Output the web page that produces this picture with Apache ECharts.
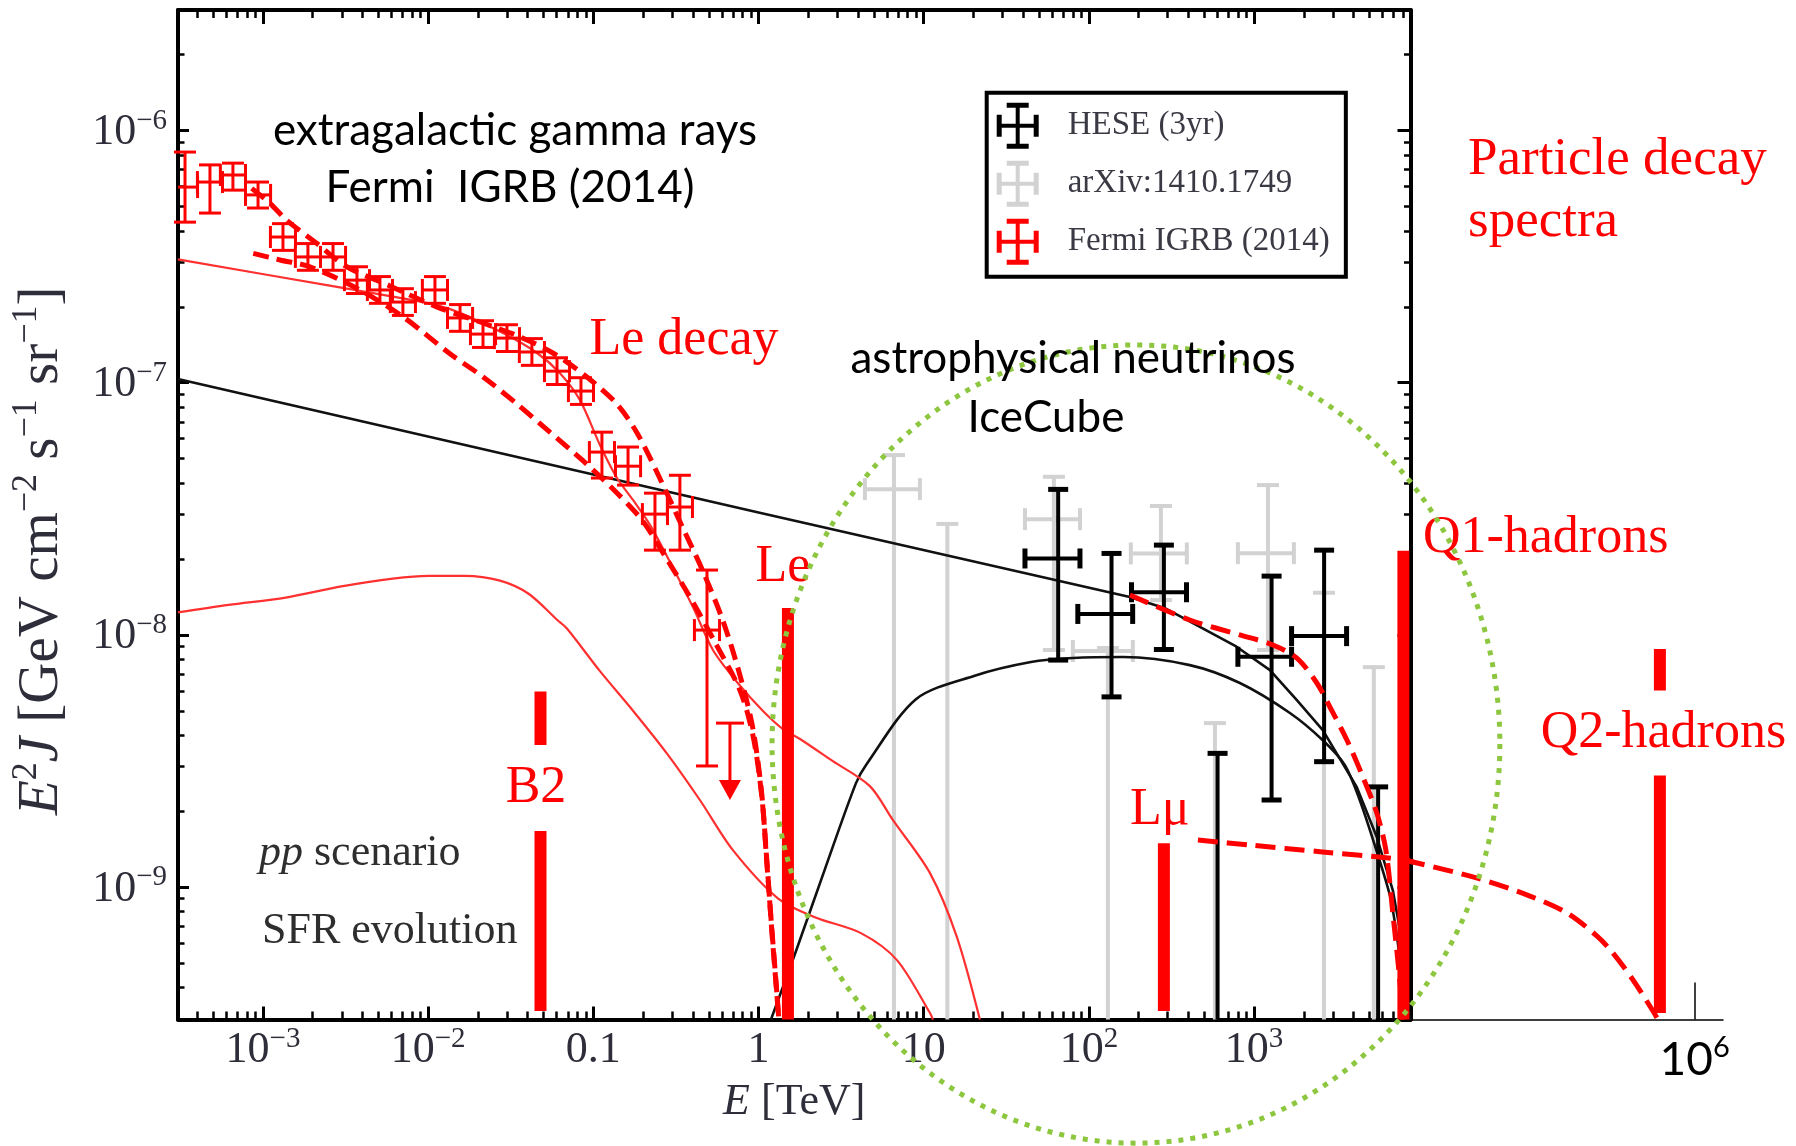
<!DOCTYPE html>
<html>
<head>
<meta charset="utf-8">
<script src="https://cdn.jsdelivr.net/npm/echarts@6/dist/echarts.min.js"></script>
<style>
  html, body { margin: 0; padding: 0; background: #ffffff; }
  #chart { width: 1796px; height: 1146px; }
</style>
</head>
<body>
<div id="chart"></div>
<script>
// ---------------------------------------------------------------------------
// Fonts
// ---------------------------------------------------------------------------
const SERIF = '"Liberation Serif", "Times New Roman", serif';
const SANS = 'Lato, "Open Sans", sans-serif';

// All values below are log10 values: log10(E / TeV) and log10(E^2 J / GeV cm^-2 s^-1 sr^-1)

// Axis ranges (log10)
const xLogRange = [-3.5145, 3.947];
const yLogRange = [-9.5256, -5.5216];
const x2LogRange = [3.947, 6.205];   // continuation strip up to 10^6 TeV

// Tick marks
const majorXTicks = [1e-3, 1e-2, 0.1, 1, 10, 100, 1000];
const majorYTicks = [1e-9, 1e-8, 1e-7, 1e-6];
const extensionTicks = [1e6];
const minorMultipliers = [2, 3, 4, 5, 6, 7, 8, 9];

// Fermi IGRB (2014)
const igrbLogE = [-3.472, -3.321, -3.182, -3.030, -2.879, -2.728, -2.576, -2.431, -2.292, -2.153, -1.959,
                  -1.807, -1.668, -1.523, -1.372, -1.220, -1.075, -0.948, -0.790, -0.627, -0.476, -0.312];
const igrbLogBinHalfWidth = 0.076;
const igrbLogF = [-6.224, -6.204, -6.176, -6.255, -6.422, -6.501, -6.501, -6.593, -6.632, -6.680, -6.632,
                  -6.743, -6.807, -6.823, -6.878, -6.954, -7.033, -7.275, -7.331, -7.521, -7.493, -7.981];
const igrbLogFHi = [-6.085, -6.136, -6.129, -6.204, -6.369, -6.448, -6.448, -6.540, -6.579, -6.627, -6.579,
                    -6.690, -6.754, -6.770, -6.825, -6.901, -6.980, -7.196, -7.255, -7.438, -7.367, -7.743];
const igrbLogFLo = [-6.363, -6.327, -6.236, -6.307, -6.475, -6.554, -6.554, -6.646, -6.685, -6.733, -6.685,
                    -6.796, -6.860, -6.876, -6.931, -7.007, -7.086, -7.378, -7.406, -7.664, -7.664, -8.520];
// upper limit: [log E, log F at the bar, log F at the arrow tip]
const igrbUpperLimit = [[-0.173, -8.350, -8.655]];

// IceCube HESE (3yr); null lower flux = bar reaches the bottom of the plot
const heseLogE   = [1.814, 2.137, 2.454, 2.779, 3.106, 3.424, 3.751];
const heseLogELo = [1.613, 1.933, 2.258, null, 2.902, 3.227, null];
const heseLogEHi = [1.946, 2.265, 2.591, null, 3.227, 3.560, null];
const heseLogF   = [-7.697, -7.917, -7.831, -8.470, -8.087, -8.005, -8.603];
const heseLogFLo = [-8.100, -8.246, -8.058, null, -8.655, -8.503, null];
const heseLogFHi = [-7.423, -7.677, -7.644, -8.470, -7.767, -7.664, -8.603];

// arXiv:1410.1749
const arxivLogE   = [0.820, 1.143, 1.788, 2.115, 2.436, 2.763, 3.084, 3.423, 3.725];
const arxivLogELo = [0.644, null, 1.613, 1.903, 2.254, null, 2.902, null, null];
const arxivLogEHi = [0.977, null, 1.946, 2.266, 2.593, null, 3.241, null, null];
const arxivLogF   = [-7.422, -7.560, -7.541, -8.064, -7.677, -8.350, -7.676, -7.833, -8.128];
const arxivLogFLo = [null, null, -8.060, null, -7.862, null, -8.060, null, null];
const arxivLogFHi = [-7.287, -7.560, -7.373, -8.052, -7.489, -8.350, -7.406, -7.833, -8.128];

// Astrophysical neutrino spectra (pp scenario, SFR evolution)
const astroFluxUpper = [[-3.515, -6.985], [0, -7.515], [2.248, -7.850], [2.460, -7.894], [2.672, -7.968],
  [2.894, -8.047], [3.096, -8.140], [3.259, -8.259], [3.416, -8.378], [3.622, -8.604], [3.743, -8.802],
  [3.840, -9.013], [3.883, -9.171], [3.919, -9.369], [3.943, -9.526]];
const astroFluxLower = [[0.075, -9.526], [0.227, -9.254], [0.402, -8.929], [0.590, -8.588], [0.654, -8.513],
  [0.953, -8.255], [1.304, -8.163], [1.649, -8.108], [1.903, -8.092], [2.206, -8.088], [2.611, -8.120],
  [2.914, -8.191], [3.217, -8.310], [3.416, -8.418], [3.550, -8.517], [3.640, -8.656], [3.731, -8.835],
  [3.822, -9.033], [3.864, -9.192], [3.901, -9.390], [3.925, -9.526]];

// Gamma-ray counterparts (thin red)
const gammaUpper = [[-3.515, -6.511], [-2.552, -6.620], [-2.031, -6.680], [-1.850, -6.712], [-1.547, -6.803],
  [-1.341, -6.882], [-1.202, -6.962], [-1.081, -7.069], [-0.960, -7.247], [-0.857, -7.378], [-0.760, -7.465],
  [-0.657, -7.564], [-0.536, -7.711], [-0.397, -7.890], [-0.276, -8.060], [-0.131, -8.187], [0.027, -8.302],
  [0.148, -8.374], [0.251, -8.413], [0.450, -8.501], [0.674, -8.600], [0.814, -8.735], [1.038, -8.945],
  [1.201, -9.199], [1.340, -9.526]];
const gammaLower = [[-3.515, -7.911], [-3.208, -7.881], [-2.863, -7.852], [-2.516, -7.807], [-2.214, -7.777],
  [-1.998, -7.766], [-1.781, -7.766], [-1.565, -7.785], [-1.392, -7.837], [-1.220, -7.940], [-1.160, -7.975],
  [-0.960, -8.144], [-0.760, -8.301], [-0.554, -8.471], [-0.354, -8.656], [-0.155, -8.854], [0.117, -9.045],
  [0.341, -9.120], [0.620, -9.183], [0.838, -9.290], [1.038, -9.500], [1.056, -9.526]];

// Le decay spectra (dashed)
const leDecayUpper = [[-3.068, -6.229], [-2.958, -6.288], [-2.857, -6.355], [-2.675, -6.447], [-2.493, -6.540],
  [-2.231, -6.616], [-1.949, -6.699], [-1.668, -6.763], [-1.444, -6.818], [-1.245, -6.882], [-1.041, -6.976],
  [-0.859, -7.083], [-0.738, -7.196], [-0.617, -7.352], [-0.456, -7.579], [-0.337, -7.747], [-0.215, -7.945],
  [-0.113, -8.159], [-0.034, -8.372], [0.019, -8.628], [0.049, -8.893], [0.081, -9.171], [0.105, -9.369],
  [0.123, -9.526]];
const leDecayLower = [[-3.059, -6.487], [-2.897, -6.513], [-2.716, -6.540], [-2.433, -6.625], [-2.153, -6.738],
  [-1.868, -6.885], [-1.667, -6.977], [-1.464, -7.083], [-1.263, -7.196], [-1.063, -7.309], [-0.857, -7.437],
  [-0.700, -7.549], [-0.567, -7.687], [-0.415, -7.850], [-0.264, -8.029], [-0.113, -8.219], [-0.034, -8.398],
  [0.019, -8.636], [0.051, -8.902], [0.081, -9.179], [0.105, -9.377], [0.123, -9.526]];

// Q1-hadrons and Lmu decay spectra (dashed)
const q1Spectrum = [[2.248, -7.842], [2.611, -7.941], [2.914, -8.000], [3.114, -8.040], [3.259, -8.092],
  [3.380, -8.191], [3.459, -8.286], [3.562, -8.417], [3.659, -8.564], [3.743, -8.707], [3.798, -8.854],
  [3.840, -9.104], [3.882, -9.369], [3.900, -9.526]];
const lmuSpectrum = [[2.660, -8.814], [2.981, -8.834], [3.398, -8.860], [3.814, -8.885], [3.965, -8.901],
  [4.449, -8.968], [4.810, -9.036], [5.078, -9.103], [5.295, -9.195], [5.410, -9.262], [5.555, -9.369],
  [5.699, -9.492], [5.735, -9.526]];

// Decay lines (thick bars); null bottom = down to the axis
const lineNames = ['B2', 'Le', 'L\u03bc', 'Q1-hadrons'];
const lineLogE = [-1.320, 0.178, 2.454, 3.904];
const lineLogTop = [-8.225, -7.893, -8.827, -7.666];
const lineLogBottom = [-9.492, null, -9.492, null];
const farLineNames = ['Q2-hadrons'];
const farLineLogE = [5.749];
const farLineLogTop = [-8.056];
const farLineLogBottom = [-9.500];

// Region marking the neutrino data (dotted ellipse): centre and half-axes in decades
const ellipseLogCenter = [2.285, -8.433];
const ellipseLogRadius = [2.203, 1.583];

// ---------------------------------------------------------------------------
// Helpers
// ---------------------------------------------------------------------------
const p10 = v => (v === null || v === undefined ? null : Math.pow(10, v));
const toXY = pts => pts.map(p => [p10(p[0]), p10(p[1])]);

function minorTicks(range) {
  const out = [];
  for (let k = Math.floor(range[0]); k <= Math.ceil(range[1]); k++) {
    for (const m of minorMultipliers) {
      const v = m * Math.pow(10, k);
      const l = Math.log10(v);
      if (l > range[0] && l < range[1]) out.push(v);
    }
  }
  return out;
}

function errorRows(logE, logELo, logEHi, logF, logFLo, logFHi) {
  return logE.map((e, i) => [p10(e), p10(logF[i]), p10(logELo[i]), p10(logEHi[i]), p10(logFLo[i]), p10(logFHi[i])]);
}

const igrbRows = errorRows(igrbLogE,
  igrbLogE.map(e => e - igrbLogBinHalfWidth), igrbLogE.map(e => e + igrbLogBinHalfWidth),
  igrbLogF, igrbLogFLo, igrbLogFHi);
const heseRows = errorRows(heseLogE, heseLogELo, heseLogEHi, heseLogF, heseLogFLo, heseLogFHi);
const arxivRows = errorRows(arxivLogE, arxivLogELo, arxivLogEHi, arxivLogF, arxivLogFLo, arxivLogFHi);

function errorBarRenderer(color, lineWidth, capWidth, capHalf) {
  return function (params, api) {
    const cs = params.coordSys;
    const xL = cs.x, xR = cs.x + cs.width, yB = cs.y + cs.height;
    const E = api.value(0), F = api.value(1);
    const ELo = api.value(2), EHi = api.value(3), FLo = api.value(4), FHi = api.value(5);
    const c = api.coord([E, F]);
    const topY = api.coord([E, FHi])[1];
    const hasLo = isFinite(FLo) && FLo > 0;
    const loY = hasLo ? Math.min(api.coord([E, FLo])[1], yB) : yB;
    const seg = (x1, y1, x2, y2, w) => ({
      type: 'line', shape: { x1, y1, x2, y2 }, style: { stroke: color, lineWidth: w }
    });
    const kids = [
      seg(c[0], topY, c[0], loY, lineWidth),
      seg(c[0] - capHalf, topY, c[0] + capHalf, topY, capWidth)
    ];
    if (hasLo && loY < yB) kids.push(seg(c[0] - capHalf, loY, c[0] + capHalf, loY, capWidth));
    if (isFinite(ELo) && isFinite(EHi) && ELo > 0) {
      const lx = api.coord([ELo, F])[0], rx = api.coord([EHi, F])[0];
      kids.push(seg(Math.max(lx, xL), c[1], Math.min(rx, xR), c[1], lineWidth));
      if (lx >= xL) kids.push(seg(lx, c[1] - capHalf, lx, c[1] + capHalf, capWidth));
      if (rx <= xR) kids.push(seg(rx, c[1] - capHalf, rx, c[1] + capHalf, capWidth));
    }
    return { type: 'group', children: kids };
  };
}

function upperLimitRenderer(params, api) {
  const top = api.coord([api.value(0), api.value(1)]);
  const tipY = api.coord([api.value(0), api.value(2)])[1];
  const red = '#ff0000';
  return {
    type: 'group',
    children: [
      { type: 'line', shape: { x1: top[0], y1: top[1], x2: top[0], y2: tipY - 18 }, style: { stroke: red, lineWidth: 3 } },
      { type: 'line', shape: { x1: top[0] - 14, y1: top[1], x2: top[0] + 14, y2: top[1] }, style: { stroke: red, lineWidth: 3 } },
      { type: 'polygon', shape: { points: [[top[0] - 11, tipY - 20], [top[0] + 11, tipY - 20], [top[0], tipY]] }, style: { fill: red } }
    ]
  };
}

// Label placement for each decay line, relative to the bar top
const lineLabelStyle = {
  'B2':         { dx: -4.5, dy: 96.5, align: 'center', gap: 86 },
  'Le':         { dx: -5, dy: -41, align: 'center' },
  'L\u03bc':    { dx: -4, dy: -33, align: 'center' },
  'Q1-hadrons': { dx: 19.5, dy: -12.7, align: 'left' },
  'Q2-hadrons': { dx: 3.5, dy: 84, align: 'center', gap: 85 }
};

function decayLineRenderer(names) {
  return function (params, api) {
    const cs = params.coordSys;
    const yB = cs.y + cs.height;
    const E = api.value(0);
    const top = api.coord([E, api.value(1)]);
    const lo = api.value(2);
    const bottomY = isFinite(lo) && lo > 0 ? api.coord([E, lo])[1] : yB;
    const name = names[params.dataIndex];
    const ls = lineLabelStyle[name];
    const textStyle = {
      text: name, fill: '#ff0000', font: '52px ' + SERIF,
      align: ls.align, verticalAlign: 'middle'
    };
    if (ls.gap) {
      textStyle.backgroundColor = '#ffffff';
      textStyle.lineHeight = ls.gap;
      textStyle.padding = [0, 3];
    }
    return {
      type: 'group',
      children: [
        { type: 'rect', shape: { x: top[0] - 6, y: top[1], width: 12, height: bottomY - top[1] }, style: { fill: '#ff0000' } },
        { type: 'text', x: top[0] + ls.dx, y: top[1] + ls.dy, style: textStyle, z2: 5 }
      ]
    };
  };
}

// Tick label "10^n" with superscript, plain numbers for 0.1, 1, 10
function powerLabel(v) {
  const e = Math.round(Math.log10(v));
  if (e === -1) return '{b|0.1}';
  if (e === 0) return '{b|1}';
  if (e === 1) return '{b|10}';
  return '{b|10}{s|' + (e < 0 ? '\u2212' + (-e) : String(e)) + '}';
}
const tickColor = '#2e2e3a';
const tickRich = {
  b: { fontFamily: SERIF, fontSize: 44, color: tickColor, lineHeight: 48, verticalAlign: 'bottom' },
  s: { fontFamily: SERIF, fontSize: 29, color: tickColor, lineHeight: 30, verticalAlign: 'top' }
};

// ---------------------------------------------------------------------------
// Axes
// ---------------------------------------------------------------------------
const frameLine = { show: true, lineStyle: { color: '#000', width: 4 } };
const noLine = { show: false };
const minorX = minorTicks(xLogRange);
const minorY = minorTicks(yLogRange);

function axisDef(gridIndex, range, position, extra) {
  return Object.assign({
    type: 'log', logBase: 10, gridIndex, position,
    min: p10(range[0]), max: p10(range[1]),
    splitLine: { show: false }, minorTick: { show: false }, minorSplitLine: { show: false },
    axisLabel: { show: false }
  }, extra);
}

const xAxes = [
  axisDef(0, xLogRange, 'bottom', {
    axisLine: frameLine,
    axisTick: { show: true, inside: true, length: 13, lineStyle: { color: '#000', width: 3 }, customValues: majorXTicks },
    axisLabel: { show: true, customValues: majorXTicks, margin: 5, formatter: powerLabel, rich: tickRich },
    name: '{i|E} [TeV]', nameLocation: 'middle', nameGap: 58, nameMoveOverlap: false,
    nameTextStyle: {
      fontFamily: SERIF, fontSize: 44, color: tickColor, lineHeight: 50,
      rich: { i: { fontFamily: SERIF, fontSize: 44, fontStyle: 'italic', color: tickColor } }
    }
  }),
  axisDef(0, xLogRange, 'bottom', {
    axisLine: noLine,
    axisTick: { show: true, inside: true, length: 8, lineStyle: { color: '#000', width: 2.5 }, customValues: minorX }
  }),
  axisDef(0, xLogRange, 'top', {
    axisLine: frameLine,
    axisTick: { show: true, inside: true, length: 14, lineStyle: { color: '#000', width: 3 }, customValues: majorXTicks }
  }),
  axisDef(0, xLogRange, 'top', {
    axisLine: noLine,
    axisTick: { show: true, inside: true, length: 8, lineStyle: { color: '#000', width: 2.5 }, customValues: minorX }
  }),
  axisDef(1, x2LogRange, 'bottom', {
    axisLine: { show: true, lineStyle: { color: '#000', width: 1.5 } },
    axisTick: { show: true, inside: true, length: 37, lineStyle: { color: '#000', width: 1.5 }, customValues: extensionTicks },
    axisLabel: {
      show: true, customValues: extensionTicks, margin: 14, formatter: powerLabel,
      rich: {
        b: { fontFamily: SANS, fontSize: 46, color: '#000', lineHeight: 50, verticalAlign: 'bottom' },
        s: { fontFamily: SANS, fontSize: 29, color: '#000', lineHeight: 30, verticalAlign: 'top' }
      }
    }
  })
];

const yAxes = [
  axisDef(0, yLogRange, 'left', {
    axisLine: frameLine,
    axisTick: { show: true, inside: true, length: 11, lineStyle: { color: '#000', width: 3 }, customValues: majorYTicks },
    axisLabel: { show: true, customValues: majorYTicks, margin: 11, formatter: powerLabel, rich: tickRich },
    name: '{i|E}{s|2}{i|J} [GeV cm{s|\u22122} s{s|\u22121} sr{s|\u22121}]',
    nameLocation: 'middle', nameGap: 103, nameRotate: 90, nameMoveOverlap: false,
    nameTextStyle: {
      fontFamily: SERIF, fontSize: 57, color: tickColor, lineHeight: 66,
      padding: [0, 72, 0, 0],
      rich: {
        i: { fontFamily: SERIF, fontSize: 57, fontStyle: 'italic', color: tickColor },
        s: { fontFamily: SERIF, fontSize: 36, color: tickColor, lineHeight: 40, verticalAlign: 'top' }
      }
    }
  }),
  axisDef(0, yLogRange, 'left', {
    axisLine: noLine,
    axisTick: { show: true, inside: true, length: 6.5, lineStyle: { color: '#000', width: 2.5 }, customValues: minorY }
  }),
  axisDef(0, yLogRange, 'right', {
    axisLine: frameLine,
    axisTick: { show: true, inside: true, length: 13, lineStyle: { color: '#000', width: 3 }, customValues: majorYTicks }
  }),
  axisDef(0, yLogRange, 'right', {
    axisLine: noLine,
    axisTick: { show: true, inside: true, length: 6.5, lineStyle: { color: '#000', width: 2.5 }, customValues: minorY }
  }),
  axisDef(1, yLogRange, 'left', { show: false })
];

// ---------------------------------------------------------------------------
// Series
// ---------------------------------------------------------------------------
const errDims = ['E', 'F', 'ELo', 'EHi', 'FLo', 'FHi'];
function curve(data, color, width, dash, z, smooth, axisIdx) {
  return {
    type: 'line', data: toXY(data), xAxisIndex: axisIdx || 0, yAxisIndex: axisIdx || 0,
    symbol: 'none', showSymbol: false, smooth: smooth, clip: true, silent: true, z,
    lineStyle: { color, width, type: dash || 'solid', cap: 'butt', join: 'round' }
  };
}

const series = [
  {
    name: 'arXiv:1410.1749', type: 'custom', xAxisIndex: 0, yAxisIndex: 0,
    dimensions: errDims, encode: { x: 'E', y: 'F' }, data: arxivRows,
    itemStyle: { color: '#d2d2d2' }, renderItem: errorBarRenderer('#d2d2d2', 4, 4, 11), z: 2, silent: true
  },
  curve(astroFluxUpper, '#111111', 2.6, null, 3, false),
  curve(astroFluxLower, '#111111', 2.6, null, 3, 0.3),
  curve(gammaUpper, '#ff3030', 2.2, null, 3, 0.3),
  curve(gammaLower, '#ff3030', 2.2, null, 3, 0.3),
  {
    name: 'HESE (3yr)', type: 'custom', xAxisIndex: 0, yAxisIndex: 0,
    dimensions: errDims, encode: { x: 'E', y: 'F' }, data: heseRows,
    itemStyle: { color: '#000000' }, renderItem: errorBarRenderer('#000000', 4, 5, 10), z: 4, silent: true
  },
  {
    name: 'Fermi IGRB (2014)', type: 'custom', xAxisIndex: 0, yAxisIndex: 0,
    dimensions: errDims, encode: { x: 'E', y: 'F' }, data: igrbRows,
    itemStyle: { color: '#ff0000' }, renderItem: errorBarRenderer('#ff0000', 3, 3, 11), z: 4, silent: true
  },
  {
    name: 'Fermi IGRB (2014)', type: 'custom', xAxisIndex: 0, yAxisIndex: 0,
    dimensions: ['E', 'F', 'Ftip'], encode: { x: 'E', y: 'F' },
    data: igrbUpperLimit.map(r => [p10(r[0]), p10(r[1]), p10(r[2])]),
    itemStyle: { color: '#ff0000' }, renderItem: upperLimitRenderer, z: 4, silent: true
  },
  curve(leDecayUpper, '#ff0000', 5, [16, 8], 5, 0.3),
  curve(leDecayLower, '#ff0000', 5, [16, 8], 5, 0.3),
  curve(q1Spectrum, '#ff0000', 5, [20, 9], 5, 0.3),
  curve(lmuSpectrum, '#ff0000', 5, [20, 9], 5, 0.3),
  curve(lmuSpectrum, '#ff0000', 5, [20, 9], 5, 0.3, 4),
  {
    type: 'custom', xAxisIndex: 0, yAxisIndex: 0, silent: true, z: 6,
    dimensions: ['E', 'top', 'bottom'], encode: { x: 'E', y: 'top' },
    data: lineLogE.map((e, i) => [p10(e), p10(lineLogTop[i]), p10(lineLogBottom[i])]),
    renderItem: decayLineRenderer(lineNames)
  },
  {
    type: 'custom', xAxisIndex: 4, yAxisIndex: 4, silent: true, z: 6,
    dimensions: ['E', 'top', 'bottom'], encode: { x: 'E', y: 'top' },
    data: farLineLogE.map((e, i) => [p10(e), p10(farLineLogTop[i]), p10(farLineLogBottom[i])]),
    renderItem: decayLineRenderer(farLineNames)
  }
];

// Legend glyph: error-bar cross with caps
const crossIcon = 'path://M19,0H23V46H19Z M0,21H42V25H0Z M10,0H32V5H10Z M10,41H32V46H10Z M0,12H5V34H0Z M37,12H42V34H37Z';

const option = {
  animation: false,
  backgroundColor: '#ffffff',
  grid: [
    { left: 178, top: 10, width: 1232.5, height: 1009.5, containLabel: false, outerBoundsMode: 'none' },
    { left: 1410.5, top: 10, width: 312.5, height: 1009.5, containLabel: false, outerBoundsMode: 'none' }
  ],
  xAxis: xAxes,
  yAxis: yAxes,
  legend: {
    orient: 'vertical', left: 986.7, top: 92.7,
    padding: [10, 16, 12, 10], itemGap: 12, itemWidth: 42, itemHeight: 46,
    borderColor: '#000', borderWidth: 4, backgroundColor: '#ffffff',
    selectedMode: false,
    itemStyle: { borderWidth: 0 },
    textStyle: { fontFamily: SERIF, fontSize: 33, color: '#3a3a44', padding: [0, 0, 0, 24] },
    data: [
      { name: 'HESE (3yr)', icon: crossIcon },
      { name: 'arXiv:1410.1749', icon: crossIcon },
      { name: 'Fermi IGRB (2014)', icon: crossIcon }
    ]
  },
  series
};

const chart = echarts.init(document.getElementById('chart'), null, { renderer: 'canvas' });
chart.setOption(option);

// ---------------------------------------------------------------------------
// Annotations
// ---------------------------------------------------------------------------
const finder = { xAxisIndex: 0, yAxisIndex: 0 };
const ec = chart.convertToPixel(finder, [p10(ellipseLogCenter[0]), p10(ellipseLogCenter[1])]);
const er = chart.convertToPixel(finder, [p10(ellipseLogCenter[0] + ellipseLogRadius[0]), p10(ellipseLogCenter[1] - ellipseLogRadius[1])]);
const rx = er[0] - ec[0], ry = er[1] - ec[1];
const ellipsePts = [];
for (let i = 0; i < 360; i++) {
  const t = (i / 360) * Math.PI * 2;
  ellipsePts.push([ec[0] + rx * Math.cos(t), ec[1] + ry * Math.sin(t)]);
}

function note(text, x, y, font, fill, align, extra) {
  return {
    type: 'text', x, y, silent: true, z: 50,
    style: Object.assign({ text, font, fill, align: align || 'center', verticalAlign: 'middle' }, extra || {})
  };
}
const sansNote = '44px ' + SANS;
const redNote = '52px ' + SERIF;

chart.setOption({
  graphic: {
    elements: [
      {
        type: 'polygon', silent: true, z: 40,
        shape: { points: ellipsePts },
        style: { fill: null, stroke: '#8dc63f', lineWidth: 5, lineDash: [5, 7] }
      },
      note('extragalactic gamma rays', 515, 131, sansNote, '#000'),
      note('Fermi  IGRB (2014)', 510, 188, sansNote, '#000'),
      note('astrophysical neutrinos', 1073, 359, sansNote, '#000'),
      note('IceCube', 1046, 418, sansNote, '#000'),
      note('Le decay', 684, 340, redNote, '#ff0000'),
      note('Particle decay\nspectra', 1468, 191, '53px ' + SERIF, '#ff0000', 'left', { lineHeight: 62 }),
      note('{i|pp} scenario', 259, 853, '44px ' + SERIF, '#2e2e2e', 'left', {
        rich: { i: { font: 'italic 44px ' + SERIF, fill: '#2e2e2e' } }
      }),
      note('SFR evolution', 262, 931, '44px ' + SERIF, '#2e2e2e', 'left')
    ]
  }
});
</script>
</body>
</html>
